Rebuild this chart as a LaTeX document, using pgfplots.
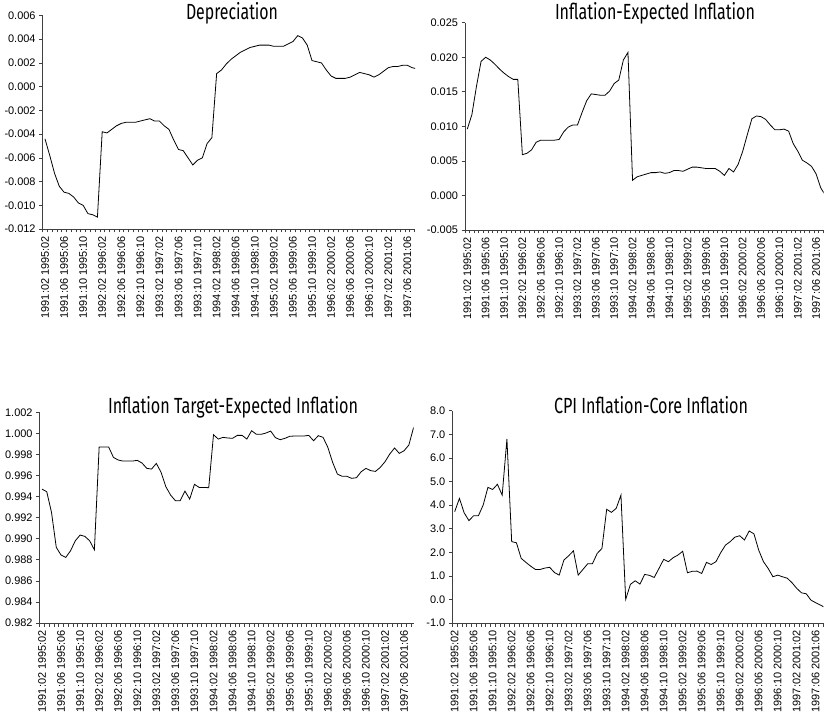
\documentclass[border=0pt]{standalone}
\usepackage{pgfplots}
\pgfplotsset{compat=1.18}
\usepackage{pgfplotstable}
\usepackage{graphicx}
\usepackage{fontspec}
\setmainfont{Liberation Sans}
\newfontfamily\titlefont{Fira Sans}

% monthly series, i = 0 is 1991:02
\pgfplotstableread{
i dep infl targ cpi
0 -0.0044 0.0096 0.99471 3.72
1 -0.0058 0.0117 0.99446 4.28
2 -0.0073 0.0158 0.99250 3.67
3 -0.0084 0.0194 0.98918 3.34
4 -0.0089 0.0200 0.98845 3.55
5 -0.0090 0.0196 0.98823 3.55
6 -0.0093 0.0190 0.98886 4.00
7 -0.0098 0.0183 0.98981 4.75
8 -0.0100 0.0177 0.99035 4.66
9 -0.0107 0.0172 0.99022 4.88
10 -0.0108 0.0168 0.98981 4.42
11 -0.0110 0.0168 0.98895 6.80
12 -0.0038 0.0059 0.99870 2.45
13 -0.0039 0.0061 0.99870 2.40
14 -0.0036 0.0066 0.99870 1.74
15 -0.0033 0.0077 0.99772 1.57
16 -0.0031 0.0080 0.99747 1.41
17 -0.0030 0.0080 0.99737 1.27
18 -0.0030 0.0080 0.99737 1.27
19 -0.0030 0.0080 0.99737 1.33
20 -0.0029 0.0081 0.99744 1.36
21 -0.0028 0.0092 0.99718 1.14
22 -0.0027 0.0099 0.99668 1.03
23 -0.0029 0.0102 0.99661 1.67
24 -0.0029 0.0102 0.99715 1.85
25 -0.0033 0.0120 0.99630 2.06
26 -0.0036 0.0137 0.99494 1.03
27 -0.0045 0.0147 0.99414 1.27
28 -0.0053 0.0146 0.99361 1.51
29 -0.0054 0.0145 0.99361 1.51
30 -0.0060 0.0145 0.99452 1.95
31 -0.0066 0.0151 0.99376 2.16
32 -0.0062 0.0162 0.99516 3.82
33 -0.0060 0.0167 0.99487 3.69
34 -0.0048 0.0196 0.99487 3.86
35 -0.0043 0.0207 0.99484 4.42
36 0.0011 0.0022 0.99987 0.00
37 0.0014 0.0027 0.99946 0.64
38 0.0019 0.0029 0.99962 0.79
39 0.0023 0.0031 0.99956 0.65
40 0.0026 0.0033 0.99953 1.06
41 0.0029 0.0033 0.99981 1.02
42 0.0031 0.0034 0.99981 0.93
43 0.0033 0.0032 0.99946 1.31
44 0.0034 0.0033 1.00025 1.70
45 0.0035 0.0036 0.99991 1.60
46 0.0035 0.0036 0.99991 1.77
47 0.0035 0.0035 1.00003 1.88
48 0.0034 0.0038 1.00022 2.04
49 0.0034 0.0041 0.99959 1.13
50 0.0034 0.0041 0.99940 1.19
51 0.0036 0.0040 0.99953 1.20
52 0.0038 0.0039 0.99972 1.10
53 0.0043 0.0039 0.99975 1.57
54 0.0041 0.0039 0.99975 1.48
55 0.0035 0.0035 0.99975 1.60
56 0.0022 0.0029 0.99981 1.98
57 0.0021 0.0039 0.99930 2.30
58 0.0020 0.0034 0.99978 2.45
59 0.0014 0.0045 0.99962 2.64
60 0.0009 0.0064 0.99867 2.70
61 0.0007 0.0088 0.99725 2.52
62 0.0007 0.0111 0.99614 2.90
63 0.0007 0.0115 0.99592 2.78
64 0.0008 0.0114 0.99592 2.09
65 0.0010 0.0110 0.99573 1.60
66 0.0012 0.0102 0.99579 1.31
67 0.0011 0.0095 0.99636 0.96
68 0.0010 0.0095 0.99668 1.03
69 0.0008 0.0096 0.99646 0.96
70 0.0010 0.0093 0.99639 0.90
71 0.0013 0.0075 0.99677 0.71
72 0.0016 0.0064 0.99731 0.47
73 0.0017 0.0051 0.99804 0.28
74 0.0017 0.0047 0.99861 0.24
75 0.0018 0.0042 0.99810 -0.03
76 0.0018 0.0031 0.99835 -0.14
77 0.0016 0.0011 0.99889 -0.24
78 0.0015 0.0000 1.00057 -0.35
}\series

\pgfplotsset{
  panel/.style={
    scale only axis,
    anchor=south west,
    axis lines=left,
    axis line style={-, black!75, line width=0.7pt},
    xmin=-0.5,
    xtick={-0.5,0.5,...,77.5},
    xticklabels={},
    extra x ticks={0,4,...,76},
    extra x tick labels={1991:02 1995:02,1991:06 1995:06,1991:10 1995:10,
      1992:02 1996:02,1992:06 1996:06,1992:10 1996:10,1993:02 1997:02,
      1993:06 1997:06,1993:10 1997:10,1994:02 1998:02,1994:06 1998:06,
      1994:10 1998:10,1995:02 1999:02,1995:06 1999:06,1995:10 1999:10,
      1996:02 2000:02,1996:06 2000:06,1996:10 2000:10,1997:02 2001:02,
      1997:06 2001:06},
    extra x tick style={tick style={draw=none}},
    xticklabel style={rotate=90, anchor=east},
    tick align=outside,
    major tick length=3.5bp,
    tick style={black!75, line width=0.6pt},
    tick label style={font=\fontsize{11}{13}\selectfont},
    scaled y ticks=false,
    /pgf/number format/assume math mode=true,
    yticklabel style={/pgf/number format/fixed,
      /pgf/number format/fixed zerofill,
      /pgf/number format/precision=3},
  },
  dline/.style={black, line width=0.8pt, no marks},
}

\begin{document}
\begin{tikzpicture}
\useasboundingbox (0,0) rectangle (824bp,717bp);

\begin{axis}[panel, at={(42.6bp,488bp)}, width=372.4bp, height=213.5bp,
  xmax=77.6, ymin=-0.012, ymax=0.006,
  ytick={-0.012,-0.01,-0.008,-0.006,-0.004,-0.002,0,0.002,0.004,0.006}]
  \addplot[dline] table[x=i, y=dep] {\series};
\end{axis}

\begin{axis}[panel, at={(465bp,487bp)}, width=358.5bp, height=207.3bp,
  xmax=77.6, ymin=-0.005, ymax=0.025,
  ytick={-0.005,0,0.005,0.01,0.015,0.02,0.025}]
  \addplot[dline] table[x=i, y=infl] {\series};
\end{axis}

\begin{axis}[panel, at={(39.6bp,94bp)}, width=374bp, height=210.7bp,
  xmax=78, ymin=0.982, ymax=1.002,
  ytick={0.982,0.984,0.986,0.988,0.99,0.992,0.994,0.996,0.998,1,1.002}]
  \addplot[dline] table[x=i, y=targ] {\series};
\end{axis}

\begin{axis}[panel, at={(452.3bp,94bp)}, width=371bp, height=212.3bp,
  xmax=77.6, ymin=-1, ymax=8,
  ytick={-1,0,1,2,3,4,5,6,7,8},
  yticklabel style={/pgf/number format/precision=1}]
  \addplot[dline] table[x=i, y=cpi] {\series};
\end{axis}

\node[anchor=base] at (232bp,697bp) {\resizebox{92bp}{\height}{\titlefont\fontsize{22}{24}\selectfont Depreciation}};
\node[anchor=base] at (655bp,697bp) {\resizebox{200bp}{\height}{\titlefont\fontsize{22}{24}\selectfont Inflation-Expected Inflation}};
\node[anchor=base] at (233bp,303bp) {\resizebox{250bp}{\height}{\titlefont\fontsize{22}{24}\selectfont Inflation Target-Expected Inflation}};
\node[anchor=base] at (651bp,303bp) {\resizebox{194bp}{\height}{\titlefont\fontsize{22}{24}\selectfont CPI Inflation-Core Inflation}};
\end{tikzpicture}
\end{document}
